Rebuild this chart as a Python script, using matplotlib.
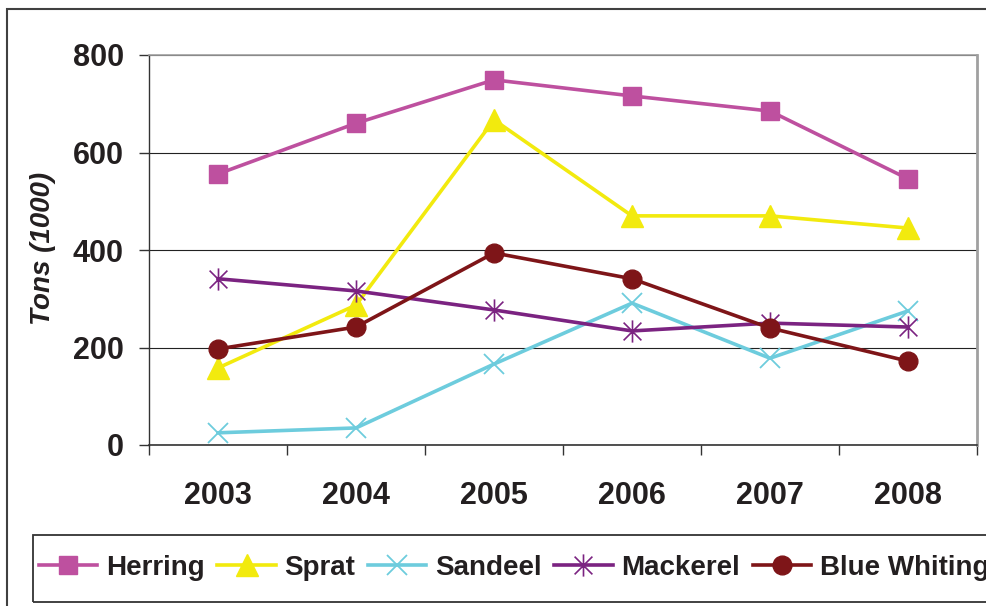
import matplotlib
matplotlib.use("Agg")
import matplotlib.pyplot as plt
from matplotlib.patches import Rectangle
from matplotlib.path import Path
from matplotlib.ticker import FixedLocator, NullFormatter, FixedFormatter

years = ["2003", "2004", "2005", "2006", "2007", "2008"]
herring = [556, 660, 749, 716, 685, 546]
sprat = [158, 287, 667, 470, 470, 445]
sandeel = [25, 35, 166, 291, 178, 275]
mackerel = [341, 316, 277, 234, 250, 242]
blue_whiting = [197, 242, 394, 341, 240, 172]
series_names = ["Herring", "Sprat", "Sandeel", "Mackerel", "Blue Whiting"]
yticks = [0, 200, 400, 600, 800]

plt.rcParams['font.family'] = ['Liberation Sans', 'DejaVu Sans']
TXT = '#231F20'

W, H = 987, 606
fig = plt.figure(figsize=(W / 100, H / 100), dpi=100)

def fx(px):
    return px / W

def fy(py):
    return 1 - py / H

# outer frame (extends beyond right/bottom edges)
fig.patches.append(Rectangle((fx(7), fy(640)), fx(1100), (640 - 9) / H,
                             transform=fig.transFigure, fill=False,
                             edgecolor='#404040', linewidth=1.5))

ax = fig.add_axes([fx(149), fy(445), fx(977 - 149), (445 - 55) / H])

x = list(range(len(years)))
star = Path([(-1, -1), (1, 1), (-1, 1), (1, -1), (0, -1.25), (0, 1.25)],
            [Path.MOVETO, Path.LINETO, Path.MOVETO, Path.LINETO, Path.MOVETO, Path.LINETO])

styles = [
    dict(color='#BE509F', marker='s', ms=13, mec='#BE509F', mew=1),
    dict(color='#F2EA0E', marker='^', ms=16, mec='#F2EA0E', mew=1),
    dict(color='#6DCCDD', marker='x', ms=15, mec='#6DCCDD', mew=1.3),
    dict(color='#7B2381', marker=star, ms=16, mec='#7B2381', mew=1.2),
    dict(color='#7E1518', marker='o', ms=13.5, mec='#7E1518', mew=1),
]
data = [herring, sprat, sandeel, mackerel, blue_whiting]
handles = []
for name, vals, st in zip(series_names, data, styles):
    h, = ax.plot(x, vals, lw=2.6, label=name, zorder=3, **st)
    handles.append(h)

ax.set_xlim(-0.5, len(years) - 0.5)
ax.set_ylim(0, 800)

ax.yaxis.set_major_locator(FixedLocator(yticks))
ax.set_yticklabels([str(v) for v in yticks])
ax.tick_params(axis='y', which='major', direction='out', length=7.2, width=1,
               color='#333333', pad=11, labelsize=22, labelcolor=TXT)
for lab in ax.get_yticklabels():
    lab.set_fontweight('bold')

ax.xaxis.set_major_locator(FixedLocator([i - 0.5 for i in range(len(years) + 1)]))
ax.xaxis.set_major_formatter(NullFormatter())
ax.xaxis.set_minor_locator(FixedLocator(x))
ax.xaxis.set_minor_formatter(FixedFormatter(years))
ax.tick_params(axis='x', which='major', direction='out', length=7.2, width=1,
               color='#333333')
ax.tick_params(axis='x', which='minor', length=0, pad=26, labelsize=22,
               labelcolor=TXT)
for lab in ax.get_xticklabels(minor=True):
    lab.set_fontweight('bold')

ax.set_axisbelow(True)
ax.yaxis.grid(True, color='#222222', linewidth=0.8)
ax.spines['left'].set_color('#333333')
ax.spines['left'].set_linewidth(1)
ax.spines['bottom'].set_color('#333333')
ax.spines['bottom'].set_linewidth(1.2)
ax.spines['top'].set_color('#A0A0A0')
ax.spines['top'].set_linewidth(1.2)
ax.spines['right'].set_color('#A0A0A0')
ax.spines['right'].set_linewidth(2)
for s in ax.spines.values():
    s.set_zorder(2.6)

fig.text(fx(43), fy(248), 'Tons (1000)', rotation=90, ha='center', va='center',
         fontsize=20, fontweight='bold', fontstyle='italic', color=TXT)

# legend frame
fig.patches.append(Rectangle((fx(33), fy(602)), fx(1100), (602 - 535) / H,
                             transform=fig.transFigure, fill=False,
                             edgecolor='#333333', linewidth=1.3))
leg = fig.legend(handles=handles, labels=series_names, loc='center left',
                 bbox_to_anchor=(fx(39), fy(568)), ncol=5, frameon=False,
                 borderpad=0, borderaxespad=0, handlelength=2.1,
                 handletextpad=0.32, columnspacing=0.45,
                 prop=dict(size=20, weight='bold'))
for t in leg.get_texts():
    t.set_color(TXT)

fig.savefig('out.png', dpi=100)
